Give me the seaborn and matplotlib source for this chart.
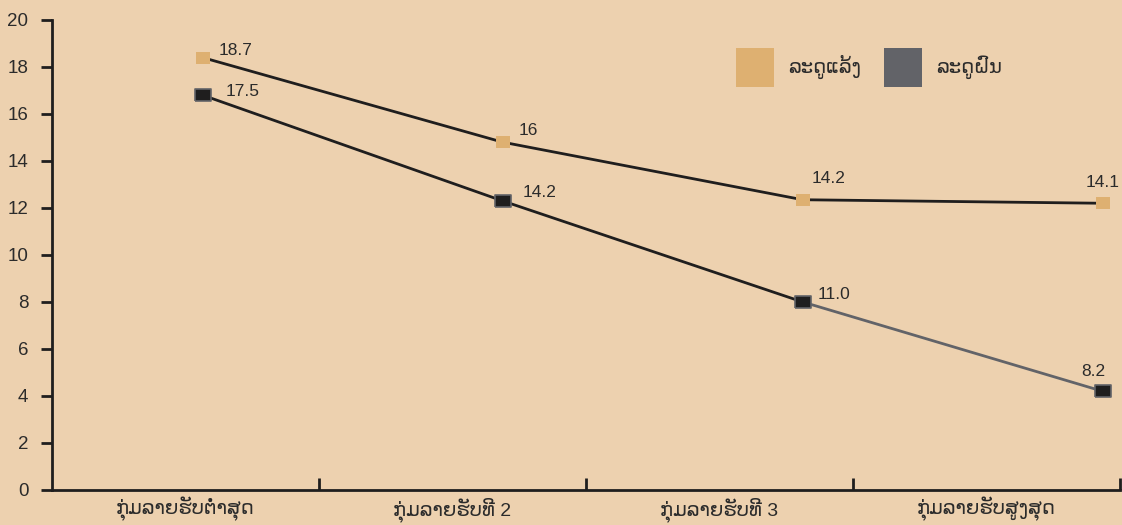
import numpy as np
import pandas as pd
import matplotlib
matplotlib.use("Agg")
import matplotlib.pyplot as plt
import seaborn as sns
from matplotlib.patches import Patch

# categories (income groups) and the two season series
categories = ["ກຸ່ມລາຍຮັບຕ່ຳສຸດ", "ກຸ່ມລາຍຮັບທີ 2", "ກຸ່ມລາຍຮັບທີ 3", "ກຸ່ມລາຍຮັບສູງສຸດ"]
series_names = ["ລະດູແລ້ງ", "ລະດູຝົນ"]
dry_values = [18.4, 14.8, 12.35, 12.2]
wet_values = [16.8, 12.3, 8.0, 4.2]
dry_labels = ["18.7", "16", "14.2", "14.1"]
wet_labels = ["17.5", "14.2", "11.0", "8.2"]
y_ticks = [0, 2, 4, 6, 8, 10, 12, 14, 16, 18, 20]

bg = "#EDD1AF"
tan = "#DEB071"
dark = "#1F1E1E"
grey = "#626368"
txt = "#2b2b2b"

sns.set_theme(style="ticks")
plt.rcParams["font.family"] = ["Liberation Sans", "DejaVu Sans"]

df = pd.DataFrame({"pos": np.arange(len(categories)), "dry": dry_values, "wet": wet_values})

fig = plt.figure(figsize=(11.22, 5.25), dpi=100, facecolor=bg)
ax = fig.add_axes([0.0463, 0.0667, 0.952, 0.8953])
ax.set_facecolor(bg)

# slightly flat square marker like the original
rect = [(-1, -0.8), (1, -0.8), (1, 0.8), (-1, 0.8), (-1, -0.8)]

# lines
sns.lineplot(data=df, x="pos", y="dry", ax=ax, color=dark, lw=2, zorder=2)
sns.lineplot(data=df.iloc[:3], x="pos", y="wet", ax=ax, color=dark, lw=2, zorder=2)
sns.lineplot(data=df.iloc[2:], x="pos", y="wet", ax=ax, color=grey, lw=2, zorder=2)
ax.scatter(df["pos"], df["dry"], marker=rect, s=115, color=tan, lw=0, zorder=3)
ax.scatter(df["pos"], df["wet"], marker=rect, s=125, color=dark, edgecolor=grey, lw=1.2, zorder=3)

# value labels
dry_off = [(16, 7, "left"), (16, 12, "left"), (9, 21, "left"), (0, 21, "center")]
wet_off = [(23, 4, "left"), (20, 8, "left"), (15, 7, "left"), (-9, 20, "center")]
for i in range(len(categories)):
    dx, dy, ha = dry_off[i]
    ax.annotate(dry_labels[i], (i, dry_values[i]), xytext=(dx, dy), textcoords="offset pixels",
                ha=ha, va="center", fontsize=12.5, color=txt)
    dx, dy, ha = wet_off[i]
    ax.annotate(wet_labels[i], (i, wet_values[i]), xytext=(dx, dy), textcoords="offset pixels",
                ha=ha, va="center", fontsize=12.5, color=txt)

# axes
xmin, xmax = -0.502, 3.058
ax.set_xlim(xmin, xmax)
ax.set_ylim(0, 20)
band = (xmax - xmin) / len(categories)
ax.set_xticks([xmin + band * k for k in range(1, len(categories) + 1)])
ax.set_xticklabels([])
ax.set_xticks([xmin + band * (k + 0.5) for k in range(len(categories))], minor=True)
ax.set_xticklabels(categories, minor=True, fontsize=14, color=txt)
ax.tick_params(axis="x", which="major", direction="in", length=9, width=2, color=dark)
ax.tick_params(axis="x", which="minor", length=0, pad=5)
ax.set_yticks(y_ticks)
ax.tick_params(axis="y", direction="out", length=8, width=2, color=dark, pad=9,
               labelsize=13.5, labelcolor=txt)
ax.set_xlabel("")
ax.set_ylabel("")
sns.despine(ax=ax)
for s in ["left", "bottom"]:
    ax.spines[s].set_linewidth(2)
    ax.spines[s].set_color(dark)

handles = [Patch(facecolor=tan, edgecolor="none"), Patch(facecolor=grey, edgecolor="none")]
fig.legend(handles, series_names, loc="upper left", bbox_to_anchor=(0.656, 0.909),
           ncol=2, frameon=False, fontsize=14, handlelength=1.96, handleheight=2.7,
           handletextpad=0.7, columnspacing=1.2, borderpad=0, borderaxespad=0,
           labelcolor=txt)

fig.savefig("out.png", dpi=100, facecolor=bg)
